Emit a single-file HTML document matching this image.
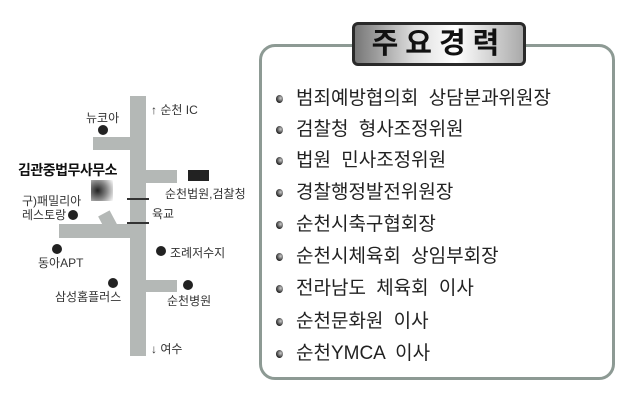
<!DOCTYPE html>
<html><head><meta charset="utf-8"><style>
body{margin:0;width:640px;height:400px;background:#fff;position:relative;overflow:hidden;font-family:"Liberation Sans","Noto Sans CJK KR","NanumGothic",sans-serif;color:#222}
.a{position:absolute}
.r{position:absolute;background:#b4b8b6}
.d{position:absolute;width:10px;height:10px;border-radius:50%;background:#222}
.t{position:absolute;font-size:12px;white-space:nowrap;color:#333}
.frame{position:absolute;left:259px;top:44px;width:350px;height:330px;border:3px solid #8d9a94;border-radius:16px}
.title{position:absolute;left:352px;top:22px;width:168px;height:38px;border:3px solid #2a2a2a;border-radius:6px;background:linear-gradient(90deg,#777 0%,#ddd 35%,#fff 60%,#aaa 100%);font-size:29px;font-weight:bold;text-align:center;line-height:38px;letter-spacing:7px;color:#111}
.li{position:absolute;left:296px;font-size:19px;word-spacing:5px;white-space:nowrap;color:#222;line-height:20px}
.b{position:absolute;left:276px;width:7px;height:8px;border-radius:50%;background:radial-gradient(circle at 65% 40%,#ccc,#222 70%)}
</style></head><body>
<div class="r" style="left:130px;top:96px;width:16px;height:260px"></div>
<div class="r" style="left:93px;top:137px;width:40px;height:13px"></div>
<div class="r" style="left:145px;top:170px;width:32px;height:13px"></div>
<div class="r" style="left:59px;top:224px;width:74px;height:14px"></div>
<div class="r" style="left:145px;top:280px;width:32px;height:12px"></div>
<div class="r" style="left:103px;top:212px;width:13px;height:24px;transform:rotate(-28deg);transform-origin:center"></div>
<div class="a" style="left:127px;top:198px;width:22px;height:2px;background:#333"></div>
<div class="a" style="left:127px;top:222px;width:22px;height:2px;background:#333"></div>
<div class="a" style="left:91px;top:180px;width:22px;height:21px;background:radial-gradient(circle at 30% 50%,#222,#888 50%,#fff)"></div>
<div class="a" style="left:188px;top:170px;width:21px;height:11px;background:#222"></div>
<div class="t" style="left:151px;top:101px">↑ 순천 IC</div>
<div class="t" style="left:86px;top:109px">뉴코아</div>
<div class="d" style="left:98px;top:125px"></div>
<div class="a" style="left:18px;top:160px;font-size:14px;font-weight:bold;white-space:nowrap;color:#111;letter-spacing:-0.5px">김관중법무사무소</div>
<div class="t" style="left:165px;top:185px">순천법원,검찰청</div>
<div class="t" style="left:22px;top:194px;line-height:14px">구)패밀리아<br>레스토랑</div>
<div class="d" style="left:68px;top:210px"></div>
<div class="t" style="left:152px;top:205px">육교</div>
<div class="d" style="left:52px;top:244px"></div>
<div class="t" style="left:38px;top:254px">동아APT</div>
<div class="d" style="left:156px;top:246px"></div>
<div class="t" style="left:170px;top:244px">조례저수지</div>
<div class="d" style="left:108px;top:278px"></div>
<div class="t" style="left:55px;top:288px">삼성홈플러스</div>
<div class="d" style="left:183px;top:280px"></div>
<div class="t" style="left:167px;top:292px">순천병원</div>
<div class="t" style="left:151px;top:340px">↓ 여수</div>
<div class="frame"></div>
<div class="title">주요경력</div>
<div class="b" style="top:95px"></div><div class="li" style="top:89px">범죄예방협의회 상담분과위원장</div>
<div class="b" style="top:126px"></div><div class="li" style="top:120px">검찰청 형사조정위원</div>
<div class="b" style="top:157px"></div><div class="li" style="top:151px">법원 민사조정위원</div>
<div class="b" style="top:189px"></div><div class="li" style="top:183px">경찰행정발전위원장</div>
<div class="b" style="top:221px"></div><div class="li" style="top:215px">순천시축구협회장</div>
<div class="b" style="top:253px"></div><div class="li" style="top:247px">순천시체육회 상임부회장</div>
<div class="b" style="top:285px"></div><div class="li" style="top:279px">전라남도 체육회 이사</div>
<div class="b" style="top:318px"></div><div class="li" style="top:312px">순천문화원 이사</div>
<div class="b" style="top:350px"></div><div class="li" style="top:344px">순천YMCA 이사</div>
</body></html>
